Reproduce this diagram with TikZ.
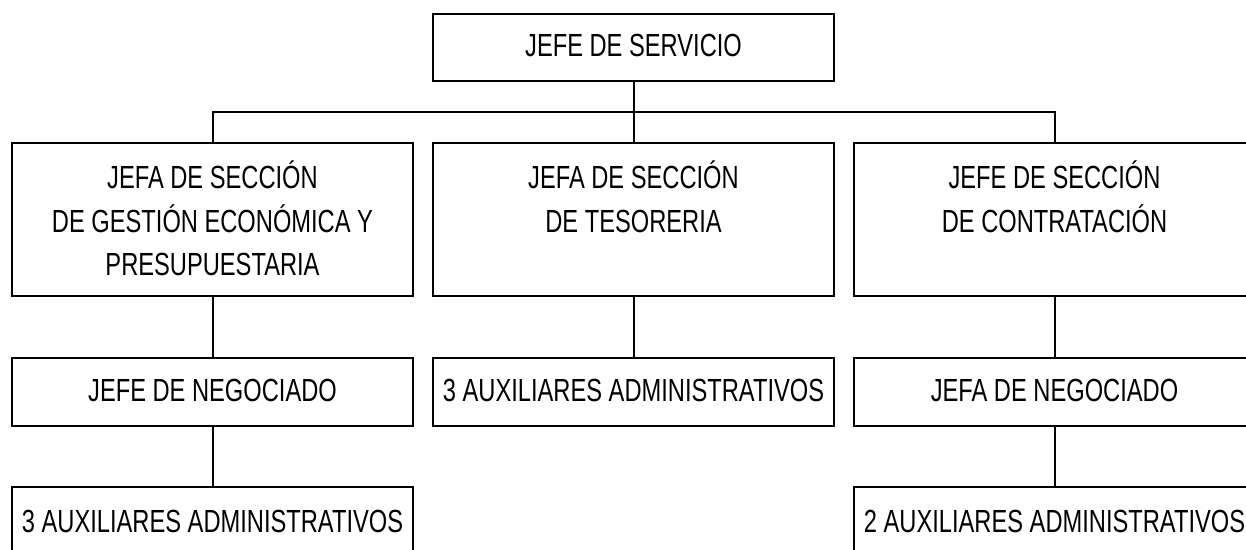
\documentclass[tikz,border=0pt]{standalone}
\usepackage{fontspec}
\setmainfont[FakeStretch=0.74]{Liberation Sans}
\begin{document}
\begin{tikzpicture}[x=1pt,y=-1pt,
  box/.style={draw, line width=2pt, inner sep=0pt, minimum width=401pt},
  txt/.style={inner sep=0pt, align=center, anchor=north, font=\fontsize{32}{43.5}\selectfont},
  wire/.style={line width=2pt}]
\clip (0,0) rectangle (1246,549);
% boxes
\node[box, minimum height=67pt] (b0) at (633.5,47.5) {};
\node[box, minimum height=153pt] (b1a) at (212.5,219.5) {};
\node[box, minimum height=153pt] (b1b) at (633.5,219.5) {};
\node[box, minimum height=153pt] (b1c) at (1054.5,219.5) {};
\node[box, minimum height=68pt] (b2a) at (212.5,392) {};
\node[box, minimum height=68pt] (b2b) at (633.5,392) {};
\node[box, minimum height=68pt] (b2c) at (1054.5,392) {};
\node[box, minimum height=68pt] (b3a) at (212.5,521) {};
\node[box, minimum height=68pt] (b3c) at (1054.5,521) {};
% texts
\node[txt] (t0) at (633.5,26.2) {\strut JEFE DE SERVICIO};
\node[txt] (t1a) at (212.5,157.9) {\strut JEFA DE SECCIÓN\\DE GESTIÓN ECONÓMICA Y\\PRESUPUESTARIA};
\node[txt] (t1b) at (633.5,157.9) {\strut JEFA DE SECCIÓN\\DE TESORERIA};
\node[txt] (t1c) at (1054.5,157.9) {\strut JEFE DE SECCIÓN\\DE CONTRATACIÓN};
\node[txt] (t2a) at (212.5,371.2) {\strut JEFE DE NEGOCIADO};
\node[txt] (t2b) at (633.5,371.2) {\strut 3 AUXILIARES ADMINISTRATIVOS};
\node[txt] (t2c) at (1054.5,371.2) {\strut JEFA DE NEGOCIADO};
\node[txt] (t3a) at (212.5,501.5) {\strut 3 AUXILIARES ADMINISTRATIVOS};
\node[txt] (t3c) at (1054.5,501.5) {\strut 2 AUXILIARES ADMINISTRATIVOS};
% connectors
\coordinate (bus) at (633.5,112);
\draw[wire] (b0.south) -- (b1b.north);
\draw[wire] (b1a.north) |- (bus) -| (b1c.north);
\draw[wire] (b1a.south) -- (b2a.north);
\draw[wire] (b1b.south) -- (b2b.north);
\draw[wire] (b1c.south) -- (b2c.north);
\draw[wire] (b2a.south) -- (b3a.north);
\draw[wire] (b2c.south) -- (b3c.north);
\end{tikzpicture}
\end{document}
